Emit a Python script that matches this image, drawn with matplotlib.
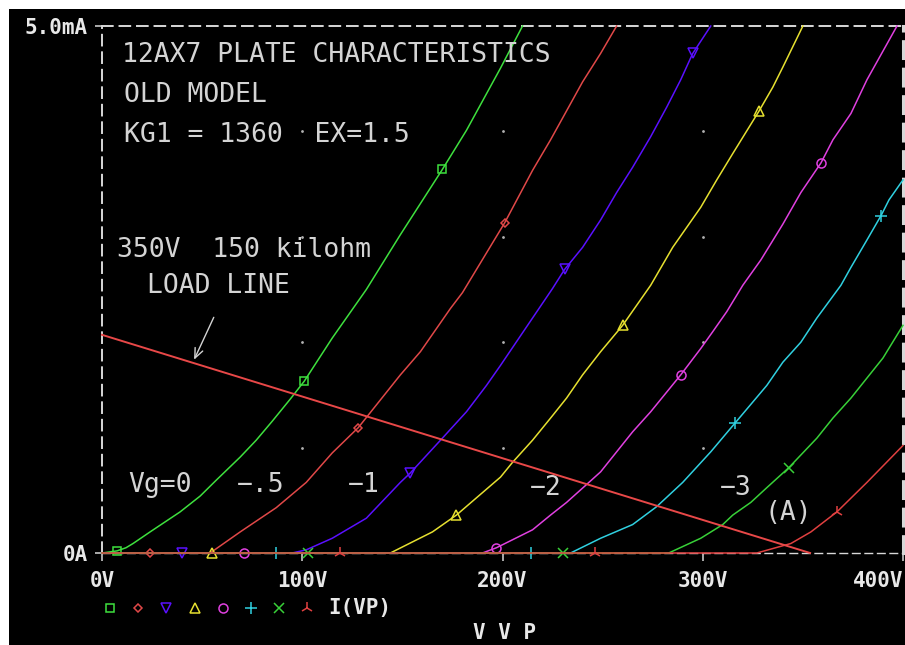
import matplotlib.pyplot as plt
from matplotlib.patches import Rectangle

# plate voltage (V) and plate current (mA), one pair per grid voltage
vg0_v = [0, 7.5, 12, 15.5, 24, 39, 49, 57, 69, 77, 85, 94, 101, 115, 132, 149, 170, 182, 199, 210]
vg0_i = [0, 0.02, 0.05, 0.09, 0.20, 0.39, 0.54, 0.69, 0.91, 1.07, 1.25, 1.46, 1.63, 2.04,
         2.50, 3.02, 3.64, 4.01, 4.60, 5.0]
vg05_v = [0, 24, 54, 69, 87, 102, 115, 128, 149, 159, 174, 180, 201, 215, 224, 240, 249, 257]
vg05_i = [0, 0, 0, 0.20, 0.43, 0.67, 0.95, 1.19, 1.69, 1.91, 2.32, 2.47, 3.13, 3.63, 3.92,
          4.47, 4.74, 5.0]
vg1_v = [0, 40, 95, 102, 115, 132, 149, 154, 170, 182, 192, 199, 225, 231, 240, 249, 257,
         265, 274, 282, 289, 295, 304]
vg1_i = [0, 0, 0, 0.03, 0.14, 0.33, 0.67, 0.76, 1.09, 1.34, 1.59, 1.78, 2.51, 2.69, 2.90,
         3.16, 3.42, 3.66, 3.95, 4.23, 4.49, 4.74, 5.0]
vg15_v = [0, 55, 144, 165, 177, 199, 205, 215, 224, 232, 240, 249, 260, 274, 285, 299, 307,
          315, 328, 335, 340, 350]
vg15_i = [0, 0, 0, 0.20, 0.36, 0.72, 0.86, 1.07, 1.28, 1.47, 1.69, 1.91, 2.16, 2.54, 2.90,
          3.28, 3.54, 3.79, 4.19, 4.42, 4.61, 5.0]
vg2_v = [0, 71, 190, 197, 215, 224, 232, 242, 249, 257, 265, 274, 289, 299, 305, 312, 320,
         329, 340, 349, 359, 365, 374, 382, 397]
vg2_i = [0, 0, 0, 0.05, 0.22, 0.36, 0.48, 0.65, 0.77, 0.96, 1.15, 1.34, 1.69, 1.94, 2.10,
         2.29, 2.54, 2.78, 3.12, 3.42, 3.70, 3.92, 4.17, 4.49, 5.0]
vg25_v = [0, 87, 214, 234, 249, 265, 277, 290, 304, 316, 332, 340, 349, 357, 369, 374, 382,
          389, 393, 400]
vg25_i = [0, 0, 0, 0, 0.14, 0.27, 0.44, 0.67, 0.96, 1.23, 1.59, 1.81, 2.00, 2.23, 2.54, 2.71,
          2.97, 3.20, 3.35, 3.54]
vg3_v = [0, 103, 230, 283, 299, 310, 315, 324, 332, 343, 357, 365, 374, 382, 390, 400]
vg3_i = [0, 0, 0, 0, 0.14, 0.27, 0.36, 0.48, 0.62, 0.81, 1.09, 1.28, 1.47, 1.66, 1.85, 2.16]
vg35_v = [0, 119, 246, 327, 344, 354, 367, 382, 400]
vg35_i = [0, 0, 0, 0, 0.09, 0.20, 0.39, 0.67, 1.02]

# which points carry the trace symbol
marks0 = [1, 12, 16]
marks05 = [1, 7, 12]
marks1 = [1, 7, 13, 21]
marks15 = [1, 4, 12, 18]
marks2 = [1, 3, 12, 20]
marks25 = [1, 2, 9, 17]
marks3 = [1, 2, 9]
marks35 = [1, 2, 6]

# 350V / load line end points
load_v = [0, 353.6]
load_i = [2.07, 0]

x_ticks = [0, 100, 200, 300, 400]
x_labels = ['0V', '100V', '200V', '300V', '400V']
y_ticks = [0, 5]
y_labels = ['0A', '5.0mA']

traces = [
    (vg0_v, vg0_i, marks0, '#3ee03e', 's', 6),
    (vg05_v, vg05_i, marks05, '#e04848', 'D', 4.5),
    (vg1_v, vg1_i, marks1, '#5a10ff', 'v', 7),
    (vg15_v, vg15_i, marks15, '#e6e030', '^', 7),
    (vg2_v, vg2_i, marks2, '#e040e0', 'o', 6.5),
    (vg25_v, vg25_i, marks25, '#30d0e0', '+', 8),
    (vg3_v, vg3_i, marks3, '#38d038', 'x', 6.5),
    (vg35_v, vg35_i, marks35, '#e04040', '2', 9),
]

txt = '#d4d4d4'
mono = 'DejaVu Sans Mono'

fig = plt.figure(figsize=(9.05, 6.45), dpi=100, facecolor='white')
fig.patches.append(Rectangle((9 / 905, 0), 896 / 905, 636 / 645, transform=fig.transFigure,
                             facecolor='black', edgecolor='none', zorder=-10))
ax = fig.add_axes([102 / 905, (645 - 553) / 645, 801 / 905, 527 / 645])
ax.set_facecolor('black')
ax.set_xlim(0, 400)
ax.set_ylim(0, 5)

# traces stop at the frame themselves, so no clipping (keeps the 0A run full width)
for v, i, mk, col, m, ms in traces:
    ax.plot(v, i, color=col, lw=1.1, marker=m, markevery=mk, ms=ms, mfc='none',
            mec=col, mew=1.1, zorder=3, clip_on=False)

ax.plot(load_v, load_i, color='#e84848', lw=1.4, zorder=3.5, clip_on=False)

# grid dots
for gx in [100, 200, 300]:
    for gy in [1, 2, 3, 4]:
        ax.plot(gx, gy, marker='.', color='#b0b0b0', ms=2)

for sp in ax.spines.values():
    sp.set_color('#d8d8d8')
    sp.set_linewidth(1.4)
    sp.set_linestyle((0, (5.5, 3.5)))
ax.spines['right'].set_linewidth(2.2)
ax.spines['bottom'].set_linewidth(1.0)

ax.set_xticks(x_ticks)
ax.set_xticklabels(x_labels, family=mono, fontweight='bold', fontsize=15, color='#e8e8e8')
ax.set_yticks(y_ticks)
ax.set_yticklabels(y_labels, family=mono, fontweight='bold', fontsize=15, color='#e8e8e8')
ax.get_xticklabels()[-1].set_ha('right')
ax.tick_params(axis='x', direction='out', length=6, width=1.2, color='#c8c8c8', pad=7)
ax.tick_params(axis='y', direction='out', length=5, width=1.2, color='#c8c8c8', pad=5)

ax.set_xlabel('V V P', family=mono, fontweight='bold', fontsize=15, color='#e8e8e8', va='center')
ax.xaxis.set_label_coords(0.502, -0.152)

# legend row
for k, (v, i, mk, col, m, ms) in enumerate(traces):
    ax.plot((110 - 102 + k * 28.2) / 801, -0.104, marker=m, ms=ms, mfc='none', mec=col,
            mew=1.1, transform=ax.transAxes, clip_on=False)
ax.text((328 - 102) / 801, -0.104, 'I(VP)', transform=ax.transAxes, family=mono,
        fontweight='bold', fontsize=15, color='#e8e8e8', va='center', ha='left')

# annotations
fs = 19
ax.text(10, 4.725, '12AX7 PLATE CHARACTERISTICS', family=mono, fontsize=fs, color=txt, va='center')
ax.text(11, 4.345, 'OLD MODEL', family=mono, fontsize=fs, color=txt, va='center')
ax.text(11, 3.966, 'KG1 = 1360  EX=1.5', family=mono, fontsize=fs, color=txt, va='center')
ax.text(7.5, 2.875, '350V  150 kilohm', family=mono, fontsize=fs, color=txt, va='center')
ax.text(22.5, 2.533, 'LOAD LINE', family=mono, fontsize=fs, color=txt, va='center')
ax.annotate('', xy=(45.4, 1.81), xytext=(56.4, 2.26),
            arrowprops=dict(arrowstyle='->,head_length=0.7,head_width=0.3', color=txt, lw=1))
ax.text(13, 0.645, 'Vg=0', family=mono, fontsize=fs, color=txt, va='center')
ax.text(67.4, 0.645, '−.5', family=mono, fontsize=fs, color=txt, va='center')
ax.text(122.8, 0.645, '−1', family=mono, fontsize=fs, color=txt, va='center')
ax.text(213.7, 0.617, '−2', family=mono, fontsize=fs, color=txt, va='center')
ax.text(308.6, 0.617, '−3', family=mono, fontsize=fs, color=txt, va='center')
ax.text(331, 0.38, '(A)', family=mono, fontsize=fs, color=txt, va='center')

fig.savefig('out.png', dpi=100, facecolor='white')
